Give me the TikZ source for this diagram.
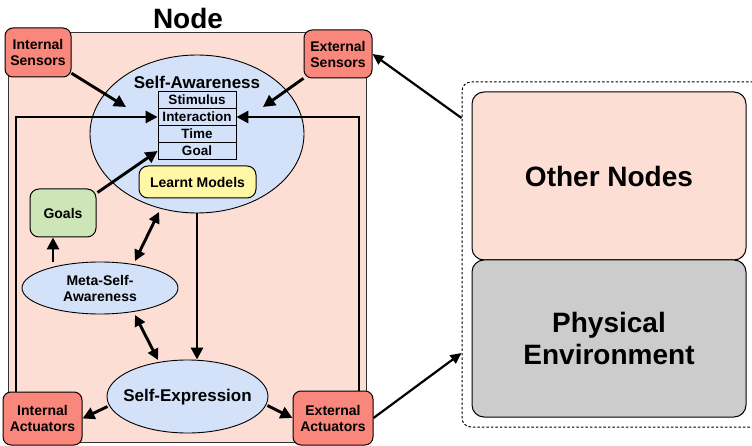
\documentclass[tikz,border=0pt]{standalone}
\usepackage{fontspec}
\setmainfont{Liberation Sans}
\usetikzlibrary{shapes.geometric,arrows.meta,positioning}
\definecolor{bgpink}{HTML}{FDDED4}
\definecolor{redbox}{HTML}{F9877B}
\definecolor{bluefill}{HTML}{D3E2F9}
\definecolor{yellowfill}{HTML}{FFF6A6}
\definecolor{greenfill}{HTML}{CDE5B7}
\definecolor{grayfill}{HTML}{CCCCCC}
\newcommand{\fs}[2]{\fontsize{#1}{#2}\selectfont\bfseries}
\tikzset{
  redb/.style={draw=black, line width=1pt, fill=redbox, rounded corners=8pt, align=center, inner sep=0pt},
  ell/.style={draw=black, line width=0.9pt, fill=bluefill, ellipse, inner sep=0pt, align=center},
  row/.style={draw=black, line width=0.8pt, fill=bluefill, minimum width=78pt, minimum height=17pt, inner sep=0pt, font=\fs{13.5}{15}},
  arr/.style={line width=2.9pt, -{Triangle[length=12pt,width=12pt]}},
  darr/.style={line width=2.9pt, {Triangle[length=11pt,width=11pt]}-{Triangle[length=11pt,width=11pt]}},
  thinarr/.style={line width=2.2pt, -{Triangle[length=11pt,width=10pt]}},
}
\begin{document}
\begin{tikzpicture}[x=1pt,y=-1pt]
\useasboundingbox (0,0) rectangle (752,446);
% main node box
\node[draw=black!80, line width=1pt, fill=bgpink, minimum width=358pt, minimum height=409pt, inner sep=0pt] (nodebox) at (187,237.5) {};
\node[font=\fs{28}{30}] (title) at (188,18) {Node};
% right side
\node[draw=black, line width=1pt, dash pattern=on 2.5pt off 2pt, rounded corners=9pt, minimum width=300pt, minimum height=345pt, inner sep=0pt] (env) at (612,254.5) {};
\node[draw=black, line width=1pt, fill=bgpink, rounded corners=12pt, minimum width=274pt, minimum height=168pt, inner sep=0pt, font=\fs{28}{32}] (other) at (609,176) {Other Nodes};
\node[draw=black, line width=1pt, fill=grayfill, rounded corners=12pt, minimum width=274pt, minimum height=157pt, inner sep=0pt, align=center, font=\fs{28}{32}] (phys) at (609,338.5) {Physical\\Environment};
% self-awareness
\node[ell, minimum width=214pt, minimum height=158pt] (sa) at (197,134) {};
\node[font=\fs{17}{20}] (satitle) at (197,82) {Self-Awareness};
\node[row] (t1) at (197,100) {Stimulus};
\node[row] (t2) at (197,117) {Interaction};
\node[row] (t3) at (197,134) {Time};
\node[row] (t4) at (197,151) {Goal};
\node[draw=black, line width=1pt, fill=yellowfill, rounded corners=9pt, minimum width=117pt, minimum height=32pt, inner sep=0pt, font=\fs{14}{16}] (lm) at (197.5,182) {Learnt Models};
% sensors
\node[redb, minimum width=66pt, minimum height=49pt, font=\fs{14}{16}] (is) at (38,52.5) {Internal\\Sensors};
\node[redb, minimum width=68pt, minimum height=48pt, font=\fs{14}{16}] (es) at (338,54) {External\\Sensors};
% goals
\node[draw=black, line width=1pt, fill=greenfill, rounded corners=9pt, minimum width=66pt, minimum height=48pt, inner sep=0pt, font=\fs{14}{16}] (goals) at (63,213) {Goals};
% meta
\node[ell, minimum width=156pt, minimum height=52pt] (meta) at (100,288) {};
\node[font=\fs{14}{16}, align=center] (metatext) at (100,288) {Meta-Self-\\Awareness};
% self-expression
\node[ell, minimum width=161pt, minimum height=73pt] (se) at (187.5,396.5) {};
\node[font=\fs{17}{20}] (setext) at (187.5,397.5) {Self-Expression};
% actuators
\node[redb, minimum width=79pt, minimum height=53pt, font=\fs{14}{16}] (ia) at (42.5,418.5) {Internal\\Actuators};
\node[redb, minimum width=80pt, minimum height=54pt, font=\fs{14}{16}] (ea) at (333,418) {External\\Actuators};
% coordinates
\coordinate (isend) at (126,107);
\coordinate (esend) at (263,107);
\coordinate (lx) at (16,0);
\coordinate (rx) at (359,0);
% arrows
\draw[arr] (is) -- (isend);
\draw[arr] (es) -- (esend);
\draw[arr] (lx |- ia.north) |- (t2.west);
\draw[arr] (rx |- ea.north) |- (t2.east);
\draw[arr] (goals.north east) ++(1,4) -- (t4.west);
\draw[arr] (sa.south) -- (sa.south |- se.north);
\draw[darr] (135,261) -- (159,212);
\draw[arr] (meta.north -| 53,0) -- (goals.south -| 53,0);
\draw[darr] (135,315) -- (158,360);
\draw[arr] (se.west) ++(1,10) -- (ia.east);
\draw[arr] (se.east) ++(-1,9) -- (ea.west);
\draw[thinarr] (env.west |- 0,118) -- (es.east);
\draw[thinarr] (ea.east) -- (env.west |- 0,353);
\end{tikzpicture}
\end{document}
